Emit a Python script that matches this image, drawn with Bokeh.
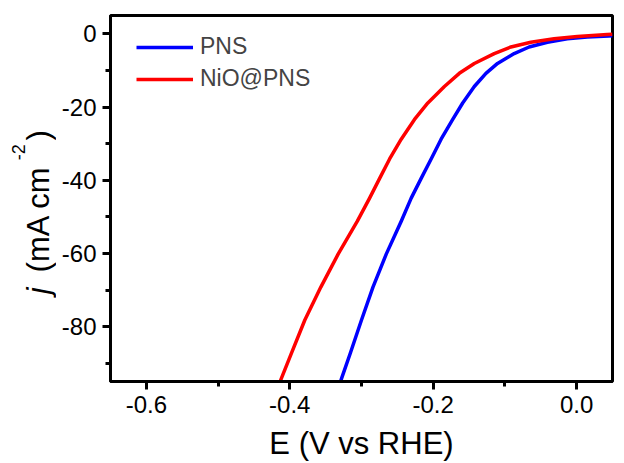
import math
from bokeh.plotting import figure
from bokeh.layouts import row
from bokeh.models import (FixedTicker, Legend, LegendItem, Range1d,
                          CustomJSTickFormatter)
from bokeh.core.properties import value
from bokeh.embed import file_html
from bokeh.resources import INLINE

# Potential (V vs RHE) and current density (mA cm^-2)
E_pns = [0.050, 0.0449, 0.0149, -0.0130, -0.0408, -0.0663, -0.0871, -0.1103,
         -0.1265, -0.1427, -0.1589, -0.1728, -0.1890, -0.2029, -0.2168,
         -0.2307, -0.2446, -0.2655, -0.2840, -0.3000, -0.3155, -0.3280,
         -0.3300]
j_pns = [-0.55, -0.6, -0.9, -1.35, -2.3, -3.6, -5.4, -8.1,
         -10.8, -14.4, -18.9, -23.4, -28.8, -34.2, -39.5,
         -44.9, -51.2, -60.2, -69.2, -78.2, -87.2, -94.3,
         -95.5]

E_nio = [0.050, 0.0427, 0.0010, -0.0315, -0.0639, -0.0917, -0.1149, -0.1427,
         -0.1636, -0.1844, -0.2075, -0.2261, -0.2446, -0.2608, -0.2747,
         -0.2887, -0.3058, -0.3326, -0.3567, -0.3790, -0.3975, -0.4120,
         -0.4145]
j_nio = [-0.1, -0.2, -0.73, -1.35, -2.3, -3.6, -5.4, -8.1,
         -10.8, -14.4, -18.9, -23.4, -28.8, -34.2, -39.5,
         -44.9, -51.2, -60.2, -69.2, -78.2, -87.2, -94.3,
         -95.5]

series_names = ["PNS", "NiO@PNS"]
x_ticks = [-0.6, -0.4, -0.2, 0.0]
x_minor = [-0.5, -0.3, -0.1]
y_ticks = [0, -20, -40, -60, -80]
y_minor = [-10, -30, -50, -70, -90]
x_title = "E (V vs RHE)"
y_title_parts = ["j", "(mA cm", "-2", ")"]

FONT = "Liberation Sans"
W, H = 624, 463
TITLE_W = 56
TOP, BOTTOM = 15, 79

# ---- main chart ----
p = figure(width=W - TITLE_W, height=H, x_range=Range1d(-0.65, 0.05),
           y_range=Range1d(-95, 5), output_backend="svg",
           toolbar_location=None, min_border_left=110 - TITLE_W,
           min_border_right=12, min_border_top=TOP, min_border_bottom=BOTTOM)
p.background_fill_color = "white"
p.border_fill_color = "white"
p.grid.visible = False
p.outline_line_color = "black"
p.outline_line_width = 3
p.outline_line_alpha = 1

for ax in (p.xaxis[0], p.yaxis[0]):
    ax.axis_line_width = 3
    ax.major_tick_line_width = 3
    ax.minor_tick_line_width = 3
    ax.major_tick_out = 8
    ax.major_tick_in = 0
    ax.minor_tick_out = 5
    ax.minor_tick_in = 0
    ax.major_label_text_font = FONT
    ax.major_label_text_font_size = "24px"
    ax.major_label_text_color = "black"
    ax.major_label_standoff = 6

p.xaxis.ticker = FixedTicker(ticks=x_ticks, minor_ticks=x_minor)
p.yaxis.ticker = FixedTicker(ticks=y_ticks, minor_ticks=y_minor)
p.xaxis.formatter = CustomJSTickFormatter(code="return tick.toFixed(1);")
p.yaxis.formatter = CustomJSTickFormatter(code="return tick.toFixed(0);")

p.xaxis.axis_label = x_title
p.xaxis.axis_label_text_font = FONT
p.xaxis.axis_label_text_font_style = "normal"
p.xaxis.axis_label_text_font_size = "31px"
p.xaxis.axis_label_text_color = "black"
p.xaxis.axis_label_standoff = 10

r_pns = p.line(E_pns, j_pns, line_color="#0000ff", line_width=3.5,
               line_join="round")
r_nio = p.line(E_nio, j_nio, line_color="#ff0000", line_width=3.5,
               line_join="round")

legend = Legend(items=[LegendItem(label=series_names[0], renderers=[r_pns]),
                       LegendItem(label=series_names[1], renderers=[r_nio])],
                location=(26, 289), border_line_alpha=0,
                background_fill_alpha=0, glyph_width=57, glyph_height=20,
                label_height=20, spacing=5, padding=0, margin=0,
                label_standoff=7, label_text_font=FONT,
                label_text_font_size="23px")
p.add_layout(legend)

# ---- narrow strip holding the y-axis title (italic j, superscript -2) ----
# its frame is aligned with the main frame; coordinates are pixels from the
# bottom of the page
t = figure(width=TITLE_W, height=H, x_range=Range1d(0, TITLE_W),
           y_range=Range1d(BOTTOM, H - TOP), output_backend="svg",
           toolbar_location=None, min_border_left=0, min_border_right=0,
           min_border_top=TOP, min_border_bottom=BOTTOM,
           x_axis_type=None, y_axis_type=None)
t.grid.visible = False
t.outline_line_color = None
t.background_fill_color = "white"
t.border_fill_color = "white"

common = dict(angle=math.pi / 2, text_align="left",
              text_baseline="middle", text_font=value(FONT),
              text_color="black")
t.text(x=[37.5], y=[H - 296], text=[y_title_parts[0]],
       text_font_size="31px", text_font_style="italic", **common)
t.text(x=[37.5], y=[H - 274], text=[y_title_parts[1]],
       text_font_size="31px", **common)
t.text(x=[18], y=[H - 161], text=[y_title_parts[2]],
       text_font_size="18px", **common)
t.text(x=[37.5], y=[H - 141], text=[y_title_parts[3]],
       text_font_size="31px", **common)

layout = row(t, p, spacing=0)
open("out.html", "w").write(file_html(layout, INLINE))
